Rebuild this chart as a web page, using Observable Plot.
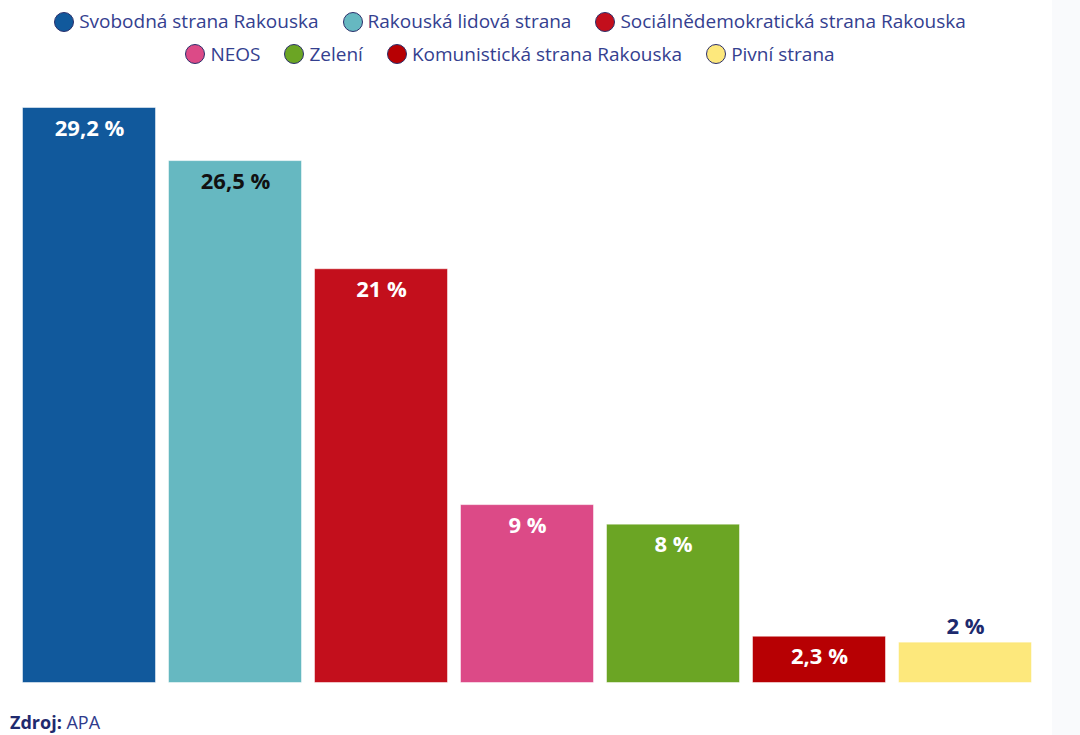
<!DOCTYPE html>
<html>
<head>
<meta charset="utf-8">
<script src="https://cdn.jsdelivr.net/npm/d3@7"></script>
<script src="https://cdn.jsdelivr.net/npm/@observablehq/plot@0.6"></script>
<style>
  html, body { margin: 0; padding: 0; background: #fff; width: 1080px; height: 735px; overflow: hidden; }
  body { font-family: "Open Sans", "Noto Sans", sans-serif; position: relative; }
  #strip { position: absolute; left: 1052px; top: 0; width: 28px; height: 735px; background: #f9fafc; }
  #legend { position: absolute; left: 0; top: 7px; width: 1020px; text-align: center; color: #34408f; font-size: 19px; line-height: 29px; }
  .row { white-space: nowrap; }
  .item { display: inline-flex; align-items: center; margin: 0 12px; }
  .dot { display: inline-block; width: 20px; height: 20px; border-radius: 50%; border: 1.5px solid #2b2f6b; margin-right: 5px; box-sizing: border-box; }
  #chart { position: absolute; left: 0; top: 70px; }
  #footer { position: absolute; left: 10px; top: 710px; font-size: 18px; color: #2f3b8c; }
  #footer b { color: #1f2a6e; }
</style>
</head>
<body>
<div id="strip"></div>
<div id="legend"></div>
<div id="chart"></div>
<div id="footer"><b>Zdroj:</b> APA</div>
<script>
const parties = ["Svobodná strana Rakouska", "Rakouská lidová strana", "Sociálnědemokratická strana Rakouska", "NEOS", "Zelení", "Komunistická strana Rakouska", "Pivní strana"];
const values = [29.2, 26.5, 21, 9, 8, 2.3, 2];
const labels = ["29,2 %", "26,5 %", "21 %", "9 %", "8 %", "2,3 %", "2 %"];
const colors = ["#11599c", "#66b8c1", "#c30f1c", "#dc4a87", "#6ba524", "#b70003", "#fde87c"];
const labelColors = ["#ffffff", "#111111", "#ffffff", "#ffffff", "#ffffff", "#ffffff", "#1d2a6e"];
const labelInside = [true, true, true, true, true, true, false];
const legendRows = [[0, 1, 2], [3, 4, 5, 6]];

const data = parties.map((p, i) => ({party: p, value: values[i], label: labels[i], color: colors[i], lc: labelColors[i], inside: labelInside[i]}));

// legend
const leg = document.getElementById("legend");
legendRows.forEach(row => {
  const r = document.createElement("div");
  r.className = "row";
  row.forEach(i => {
    const it = document.createElement("span");
    it.className = "item";
    const d = document.createElement("span");
    d.className = "dot";
    d.style.background = colors[i];
    it.appendChild(d);
    it.appendChild(document.createTextNode(parties[i]));
    r.appendChild(it);
  });
  leg.appendChild(r);
});

const chart = Plot.plot({
  width: 1080,
  height: 630,
  marginTop: 38,
  marginBottom: 18,
  marginLeft: 22,
  marginRight: 49,
  style: {fontFamily: "'Open Sans', sans-serif", background: "transparent"},
  x: {domain: parties, paddingInner: 0.097, paddingOuter: 0, axis: null},
  y: {domain: [0, 29.2], axis: null},
  color: {domain: parties, range: colors},
  marks: [
    Plot.barY(data, {x: "party", y: "value", fill: "party", stroke: "party", strokeOpacity: 0.5, strokeWidth: 1}),
    Plot.text(data.filter(d => d.inside), {x: "party", y: "value", text: "label", fill: d => d.lc, dy: 20, fontSize: 22, fontWeight: "bold"}),
    Plot.text(data.filter(d => !d.inside), {x: "party", y: "value", text: "label", fill: d => d.lc, dy: -16, fontSize: 22, fontWeight: "bold"})
  ]
});
document.getElementById("chart").appendChild(chart);
</script>
</body>
</html>
